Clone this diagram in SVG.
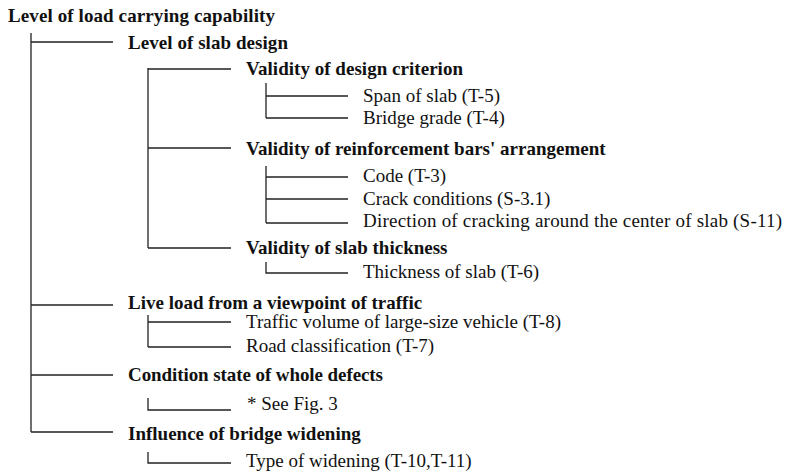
<svg xmlns="http://www.w3.org/2000/svg" width="787" height="473" viewBox="0 0 787 473">
<style>
text{font-family:"Liberation Serif","Times New Roman",serif;font-size:19px;fill:#111}
.b{font-weight:bold}
.c{fill:none;stroke:#222;stroke-width:1.3}
</style>
<rect width="787" height="473" fill="#fff"/>
<g id="connectors" class="c">
<path d="M31 33V432M31 42H113M31 305H113M31 375H113M31 432H113"/>
<path d="M148 68V248M148 69H231M148 148H231M148 248H231"/>
<path d="M266 83V118M266 96H348M266 118H348"/>
<path d="M266 166V223M266 177H348M266 199H348M266 223H348"/>
<path d="M266 262V273H348"/>
<path d="M148 315V347M148 322H231M148 347H231"/>
<path d="M148 398V410H231"/>
<path d="M148 452V463H231"/>
</g>
<g id="n0"><text class="b" x="8" y="22" textLength="267">Level of load carrying capability</text></g>
<g id="n1"><text class="b" x="128" y="49" textLength="160">Level of slab design</text></g>
<g id="n2"><text class="b" x="246" y="75" textLength="217">Validity of design criterion</text></g>
<g id="n3"><text x="363" y="102">Span of slab (T-5)</text></g>
<g id="n4"><text x="363" y="124">Bridge grade (T-4)</text></g>
<g id="n5"><text class="b" x="246" y="155">Validity of reinforcement bars' arrangement</text></g>
<g id="n6"><text x="363" y="182">Code (T-3)</text></g>
<g id="n7"><text x="363" y="205">Crack conditions (S-3.1)</text></g>
<g id="n8"><text x="363" y="227" textLength="419">Direction of cracking around the center of slab (S-11)</text></g>
<g id="n9"><text class="b" x="246" y="254">Validity of slab thickness</text></g>
<g id="n10"><text x="363" y="278">Thickness of slab (T-6)</text></g>
<g id="n11"><text class="b" x="128" y="309">Live load from a viewpoint of traffic</text></g>
<g id="n12"><text x="246" y="328">Traffic volume of large-size vehicle (T-8)</text></g>
<g id="n13"><text x="246" y="352">Road classification (T-7)</text></g>
<g id="n14"><text class="b" x="128" y="381" textLength="255">Condition state of whole defects</text></g>
<g id="n15"><text x="247" y="410">* See Fig. 3</text></g>
<g id="n16"><text class="b" x="128" y="440">Influence of bridge widening</text></g>
<g id="n17"><text x="246" y="467">Type of widening (T-10,T-11)</text></g>
</svg>
